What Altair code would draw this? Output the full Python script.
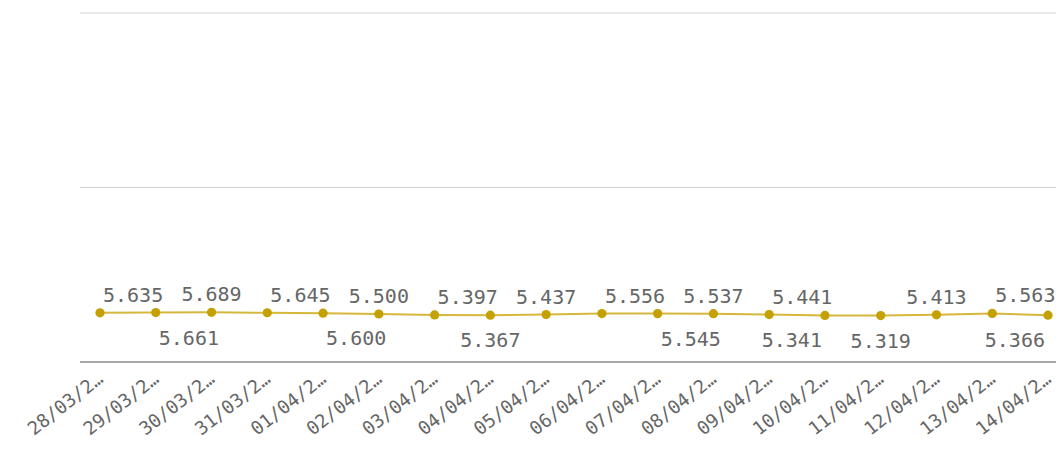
import altair as alt
import pandas as pd

dates = ["28/03/2020", "29/03/2020", "30/03/2020", "31/03/2020", "01/04/2020",
         "02/04/2020", "03/04/2020", "04/04/2020", "05/04/2020", "06/04/2020",
         "07/04/2020", "08/04/2020", "09/04/2020", "10/04/2020", "11/04/2020",
         "12/04/2020", "13/04/2020", "14/04/2020"]
values = [5.635, 5.661, 5.689, 5.645, 5.600, 5.500, 5.397, 5.367, 5.437,
          5.556, 5.545, 5.537, 5.441, 5.341, 5.319, 5.413, 5.563, 5.366]
# label placement as shown in the reference (side of the line, text alignment)
label_side = ["above", "below", "above", "above", "below", "above", "above", "below", "above",
              "above", "below", "above", "above", "below", "below", "above", "above", "below"]
label_align = ["left", "left", "center", "left", "left", "center", "left", "center", "center",
               "left", "left", "center", "left", "right", "center", "center", "left", "right"]
y_ticks = [0, 20, 40]

df = pd.DataFrame({"date": dates, "value": values,
                   "side": label_side, "align": label_align})
grid_df = pd.DataFrame({"tick": y_ticks})

W, H = 976, 349
FONT = "DejaVu Sans Mono"
LINE_COLOR = "#d6b73e"
POINT_COLOR = "#c4a000"
TEXT_COLOR = "#666666"

x = alt.X("date:O", sort=None, title=None,
          scale=alt.Scale(type="point", range=[20, 968], padding=0),
          axis=alt.Axis(ticks=False, domain=False,
                        labelFont=FONT, labelFontSize=18.5, labelColor=TEXT_COLOR,
                        labelAngle=-38, labelAlign="right", labelBaseline="middle",
                        labelPadding=14, labelLimit=94, grid=False))
yscale = alt.Scale(domain=[0, 40], nice=False, zero=True)
y = alt.Y("value:Q", title=None, scale=yscale, axis=None)

grid = alt.Chart(grid_df).transform_filter(alt.datum.tick > 0).mark_rule(
    color="#d4d4d4", strokeWidth=1).encode(
    y=alt.Y("tick:Q", scale=yscale, axis=None),
    x=alt.value(0), x2=alt.value(W + 10))
baseline = alt.Chart(grid_df).transform_filter(alt.datum.tick == 0).mark_rule(
    color="#a6a6a6", strokeWidth=2).encode(
    y=alt.Y("tick:Q", scale=yscale, axis=None),
    x=alt.value(0), x2=alt.value(W + 10))

base = alt.Chart(df)
line = base.mark_line(color=LINE_COLOR, strokeWidth=2).encode(x=x, y=y)
points = base.mark_circle(color=POINT_COLOR, opacity=1, size=85).encode(x=x, y=y)

layers = [grid, baseline, line, points]
for side, dy in (("above", -11), ("below", 32)):
    for al, dx in (("left", 3), ("center", 0), ("right", -3)):
        layers.append(
            base.transform_filter(
                (alt.datum.side == side) & (alt.datum.align == al)
            ).mark_text(font=FONT, fontSize=20, color=TEXT_COLOR, align=al,
                        baseline="alphabetic", dx=dx, dy=dy).encode(
                x=x, y=y, text=alt.Text("value:Q", format=".3f"))
        )

chart = alt.layer(*layers).properties(
    width=W, height=H, background="white",
    padding={"left": 72, "top": 5, "right": 0, "bottom": 81},
    autosize=alt.AutoSizeParams(type="none"),
).configure_view(strokeWidth=0, stroke="transparent")

chart.save("out.html", embed_options={"renderer": "svg", "actions": False})
